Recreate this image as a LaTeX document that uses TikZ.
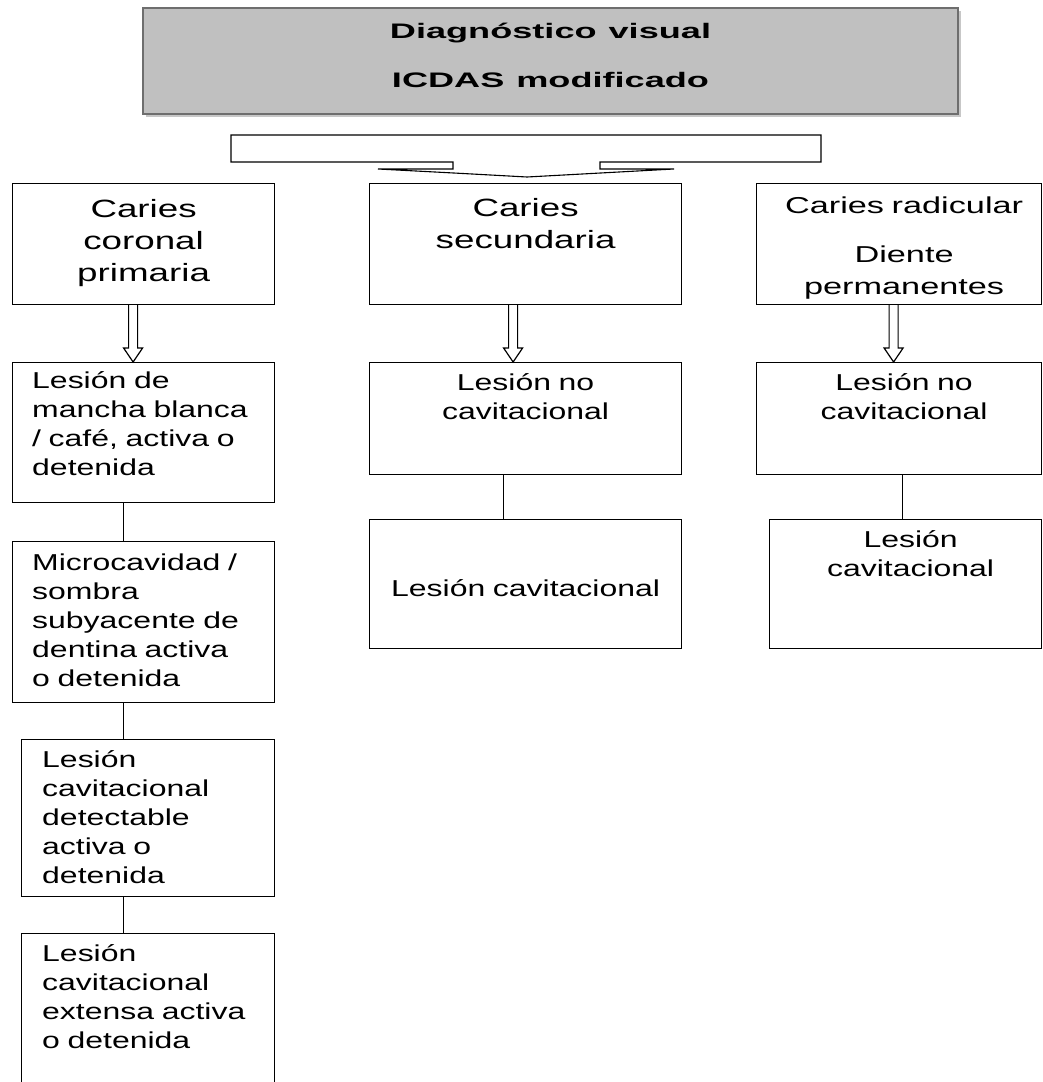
\documentclass[tikz,border=0pt]{standalone}
\usepackage{fontspec}
\setmainfont{Liberation Sans}
\newfontfamily\headfont{Liberation Sans}[FakeStretch=1.47]
\newfontfamily\radfont{Liberation Sans}[FakeStretch=1.49]
\newfontfamily\bodyfont{Liberation Sans}[FakeStretch=1.39]
\newfontfamily\titlefont{Liberation Sans Bold}[FakeStretch=1.72]
\usepackage{tikz}
\usetikzlibrary{positioning,calc,shadows}

\definecolor{titlegray}{HTML}{C0C0C0}
\definecolor{titleline}{HTML}{6E6E6E}

\tikzset{
  box/.style={draw, line width=1.2pt, anchor=north west, inner sep=0pt},
  titlebox/.style={box, fill=titlegray, draw=titleline, line width=2pt,
    drop shadow={shadow xshift=3pt, shadow yshift=-3pt, fill=black!22, opacity=1}},
  titletext/.style={font=\titlefont\fontsize{21}{49}\selectfont, align=center, text width=700pt, inner sep=0pt, anchor=base},
  headtext/.style={font=\headfont\fontsize{25}{32}\selectfont, align=center, text width=300pt, inner sep=0pt, anchor=base},
  radtext/.style={headtext, font=\radfont\fontsize{23}{32}\selectfont},
  bodyleft/.style={font=\bodyfont\fontsize{23}{29}\selectfont, align=left, text width=240pt, inner sep=0pt, anchor=base west},
  bodymid/.style={font=\bodyfont\fontsize{23}{29}\selectfont, align=center, text width=300pt, inner sep=0pt, anchor=base},
  link/.style={line width=1.2pt},
}

% hollow block arrow: from box #1 down to box #2, shifted by #3
\newcommand{\hollowarrow}[3]{%
  \draw[link] ([xshift=#3-4.5]#1.south) -- ([xshift=#3-4.5, yshift=14]#2.north)
    -- ([xshift=#3-9.5, yshift=14]#2.north) -- ([xshift=#3]#2.north)
    -- ([xshift=#3+9.5, yshift=14]#2.north) -- ([xshift=#3+4.5, yshift=14]#2.north)
    -- ([xshift=#3+4.5]#1.south);}

\begin{document}
\begin{tikzpicture}[x=1pt, y=-1pt]
\useasboundingbox (0,0) rectangle (1042,1082);

% title
\node[titlebox, minimum width=815, minimum height=106] (title) at (142,7) {};
\node[titletext] (ttitle) at ([yshift=-31]title.north) {Diagnóstico \hspace{5pt}visual\\ICDAS \hspace{5pt}modificado};

% bracket under the title
\draw[line width=1.1pt] (231,135) -- (821,135) -- (821,162) -- (600,162) -- (600,169)
  -- (674,169) .. controls (600,173) .. (527,177) .. controls (454,173) .. (378,169)
  -- (453,169) -- (453,162) -- (231,162) -- cycle;

% first row
\node[box, minimum width=262, minimum height=121] (cor) at (12,183) {};
\node[box, minimum width=312, minimum height=121] (sec) at (369,183) {};
\node[box, minimum width=285, minimum height=121] (rad) at (756,183) {};
\node[headtext] (tcor) at ([yshift=-34]cor.north) {Caries\\coronal\\primaria};
\node[headtext] (tsec) at ([yshift=-33]sec.north) {Caries\\secundaria};
\node[radtext] (trad) at ([xshift=5,yshift=-30]rad.north) {Caries radicular\\[17pt]Diente\\permanentes};

% left column
\node[box, minimum width=262, minimum height=140] (cor1) at (12,362) {};
\node[box, minimum width=262, minimum height=161] (cor2) at (12,541) {};
\node[box, minimum width=253, minimum height=157] (cor3) at (21,739) {};
\node[box, minimum width=253, minimum height=180] (cor4) at (21,933) {};
\node[bodyleft] (tcor1) at ([xshift=20,yshift=-26]cor1.north west) {Lesión de\\mancha blanca\\/ café, activa o\\detenida};
\node[bodyleft] (tcor2) at ([xshift=20,yshift=-29]cor2.north west) {Microcavidad /\\sombra\\subyacente de\\dentina activa\\o detenida};
\node[bodyleft] (tcor3) at ([xshift=21,yshift=-28]cor3.north west) {Lesión\\cavitacional\\detectable\\activa o\\detenida};
\node[bodyleft] (tcor4) at ([xshift=21,yshift=-28]cor4.north west) {Lesión\\cavitacional\\extensa activa\\o detenida};

% middle column
\node[box, minimum width=312, minimum height=112] (sec1) at (369,362) {};
\node[box, minimum width=312, minimum height=129] (sec2) at (369,519) {};
\node[bodymid] (tsec1) at ([yshift=-28]sec1.north) {Lesión no\\cavitacional};
\node[bodymid] (tsec2) at ([yshift=-77]sec2.north) {Lesión cavitacional};

% right column
\node[box, minimum width=285, minimum height=112] (rad1) at (756,362) {};
\node[box, minimum width=272, minimum height=129] (rad2) at (769,519) {};
\node[bodymid] (trad1) at ([xshift=5,yshift=-28]rad1.north) {Lesión no\\cavitacional};
\node[bodymid] (trad2) at ([xshift=5,yshift=-28]rad2.north) {Lesión\\cavitacional};

% arrows and links
\hollowarrow{cor}{cor1}{-10.5}
\hollowarrow{sec}{sec1}{-12.5}
\hollowarrow{rad}{rad1}{-5.5}
\draw[link] ([xshift=-20]cor1.south) -- ([xshift=-20]cor1.south |- cor2.north);
\draw[link] ([xshift=-20]cor2.south) -- ([xshift=-20]cor2.south |- cor3.north);
\draw[link] ([xshift=-24.5]cor3.south) -- ([xshift=-24.5]cor3.south |- cor4.north);
\draw[link] ([xshift=-22]sec1.south) -- ([xshift=-22]sec1.south |- sec2.north);
\draw[link] ([xshift=3.5]rad1.south) -- ([xshift=3.5]rad1.south |- rad2.north);
\end{tikzpicture}
\end{document}
